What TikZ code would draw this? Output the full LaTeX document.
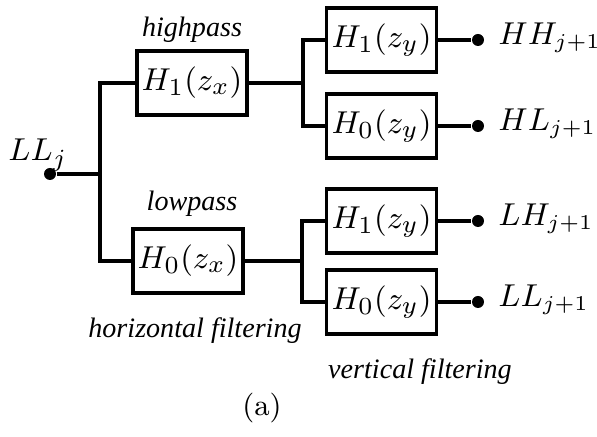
\documentclass[tikz,border=0pt]{standalone}
\usepackage{amsmath}
\usepackage{fontspec}
\newfontfamily\lblfont{Liberation Serif}[ItalicFont={Liberation Serif Italic}]
\usetikzlibrary{calc}

\begin{document}
\begin{tikzpicture}[font=\fontsize{9.5}{11}\selectfont,
  wire/.style={line width=0.9pt},
  filt/.style={draw, wire, minimum width=1.1cm, minimum height=0.64cm, inner sep=1pt},
  pt/.style={circle, fill, inner sep=0, minimum size=0.12cm},
  lbl/.style={font=\fontsize{8}{9.5}\selectfont\lblfont\itshape}]
\useasboundingbox (0,0) rectangle (5.97,-4.37);

% horizontal stage
\node[pt] (src) at (0.50,-1.74) {};
\node (srclbl) at (0.38,-1.55) {$LL_j$};
\node[filt] (hx1) at (1.92,-0.83) {$H_1(z_x)$};
\node[filt] (hx0) at (1.88,-2.61) {$H_0(z_x)$};
\node[lbl] (hp) at (1.92,-0.30) {highpass};
\node[lbl] (lp) at (1.92,-2.04) {lowpass};
\node[lbl] (hf) at (1.95,-3.31) {horizontal filtering};
\coordinate (jx) at (1.00,-1.74);
\draw[wire] (src) -- (jx) |- (hx1);
\draw[wire] (jx) |- (hx0);

% vertical stage
\foreach \n/\y/\k/\o in {hh/-0.40/1/HH, hl/-1.26/0/HL, lh/-2.21/1/LH, ll/-3.02/0/LL} {
 \node[filt] (b\n) at (3.815,\y) {$H_\k(z_y)$};
 \node[pt] (\n) at (4.78,\y) {};
 \node[anchor=west, font=\fontsize{9}{11}\selectfont] (t\n) at (4.86,{\y+0.02}) {$\o_{j+1}$};
 \draw[wire] (b\n) -- (\n);
}
\coordinate (jy1) at (3.03,-0.83);
\coordinate (jy0) at (3.02,-2.61);
\draw[wire] (hx1) -- (jy1) |- (bhh);
\draw[wire] (jy1) |- (bhl);
\draw[wire] (hx0) -- (jy0) |- (blh);
\draw[wire] (jy0) |- (bll);
\node[lbl] (vf) at (4.20,-3.72) {vertical filtering};

\node[font=\fontsize{8.5}{10}\selectfont] (cap) at (2.62,-4.08) {(a)};
\end{tikzpicture}
\end{document}
